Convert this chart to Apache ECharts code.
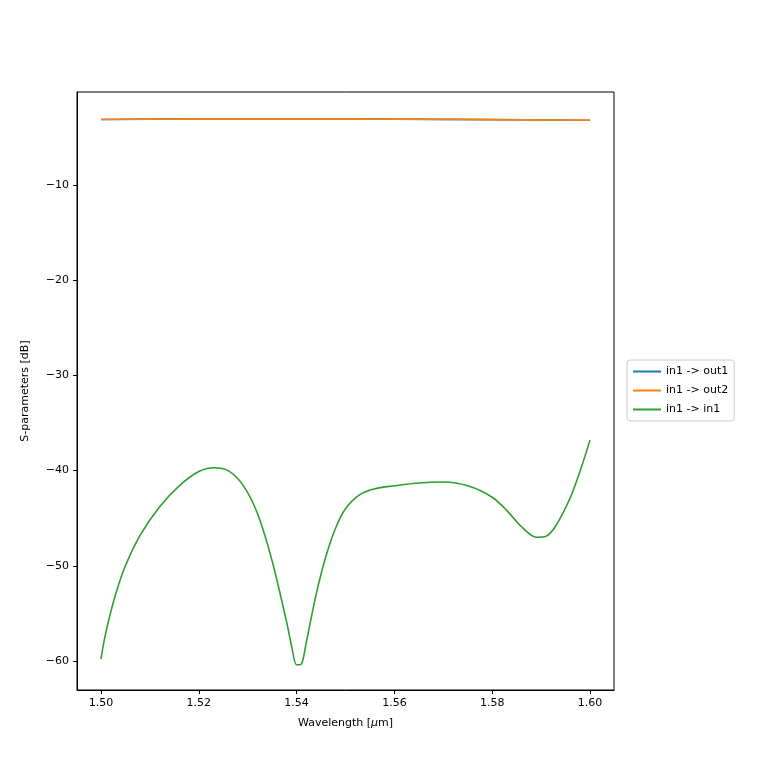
<!DOCTYPE html>
<html><head><meta charset="utf-8">
<script src="https://cdn.jsdelivr.net/npm/echarts@6/dist/echarts.min.js"></script>
<style>html,body{margin:0;padding:0;background:#fff}#c{width:768px;height:768px}</style>
</head><body><div id="c"></div>
<script>
const wl = [1.500,1.501,1.503,1.505,1.508,1.512,1.516,1.520,1.523,1.526,1.529,1.532,1.535,1.538,1.539,1.540,1.541,1.542,1.544,1.546,1.548,1.550,1.553,1.556,1.560,1.565,1.570,1.575,1.580,1.583,1.586,1.589,1.591,1.593,1.596,1.598,1.600];
const s11 = [-59.8,-57,-53,-50,-46.8,-43.8,-41.6,-40.1,-39.7,-40.0,-41.5,-44.5,-49.5,-56,-58.5,-60.4,-60.3,-58,-53,-49,-46,-44,-42.5,-41.9,-41.6,-41.3,-41.2,-41.6,-42.8,-44.2,-45.9,-47.0,-46.9,-45.8,-42.8,-40,-36.8];
const wlFlat = [1.50,1.52,1.54,1.56,1.58,1.60];
const out1 = [-3.12,-3.05,-3.05,-3.08,-3.13,-3.2];
const out2 = [-3.12,-3.05,-3.05,-3.08,-3.13,-3.2];
const xTicks = [1.50,1.52,1.54,1.56,1.58,1.60];
const yTicks = [-60,-50,-40,-30,-20,-10];
const zip = (a,b)=>a.map((v,i)=>[v,b[i]]);
const font = 'DejaVu Sans';
const chart = echarts.init(document.getElementById('c'));
chart.setOption({
  animation:false,
  textStyle:{fontFamily:font},
  grid:{left:77,right:154,top:92,bottom:78},
  legend:{orient:'vertical',left:627,top:360,itemWidth:28,itemHeight:2,itemGap:8,
    icon:'rect',borderColor:'#ccc',borderWidth:1,borderRadius:3,padding:[6,6],
    textStyle:{fontSize:11,color:'#000',fontFamily:font},
    data:['in1 -> out1','in1 -> out2','in1 -> in1']},
  xAxis:{type:'value',min:1.4951,max:1.6049,
    name:'{a|Wavelength [}{b|μ}{a|m]}',nameLocation:'middle',nameGap:28,
    nameTextStyle:{rich:{a:{fontSize:11,color:'#000',fontFamily:font},b:{fontSize:11,color:'#000',fontStyle:'italic',fontFamily:font}}},
    splitLine:{show:false},
    axisLine:{show:true,onZero:false,lineStyle:{color:'#000'}},
    axisTick:{show:true,customValues:xTicks,length:4,lineStyle:{color:'#000'}},
    axisLabel:{customValues:xTicks,formatter:v=>v.toFixed(2),color:'#000',fontSize:11,margin:8}},
  yAxis:{type:'value',min:-63.05,max:-0.23,
    name:'S-parameters [dB]',nameLocation:'middle',nameGap:46,nameTextStyle:{fontSize:11,color:'#000'},
    splitLine:{show:false},
    axisLine:{show:true,onZero:false,lineStyle:{color:'#000'}},
    axisTick:{show:true,customValues:yTicks,length:4,lineStyle:{color:'#000'}},
    axisLabel:{customValues:yTicks,formatter:v=>String(v).replace('-','\u2212'),color:'#000',fontSize:11,margin:8}},
  series:[
    {name:'in1 -> out1',type:'line',showSymbol:false,smooth:true,data:zip(wlFlat,out1),lineStyle:{width:1.6,color:'#1f77b4'},itemStyle:{color:'#1f77b4'}},
    {name:'in1 -> out2',type:'line',showSymbol:false,smooth:true,data:zip(wlFlat,out2),lineStyle:{width:1.6,color:'#ff7f0e',opacity:1},itemStyle:{color:'#ff7f0e'}},
    {name:'in1 -> in1',type:'line',showSymbol:false,smooth:0.3,data:zip(wl,s11),lineStyle:{width:1.6,color:'#2ca02c'},itemStyle:{color:'#2ca02c'}}
  ],
  graphic:[{type:'rect',shape:{x:77,y:92,width:537,height:598},style:{fill:'none',stroke:'#000',lineWidth:1},silent:true}]
});
</script></body></html>
